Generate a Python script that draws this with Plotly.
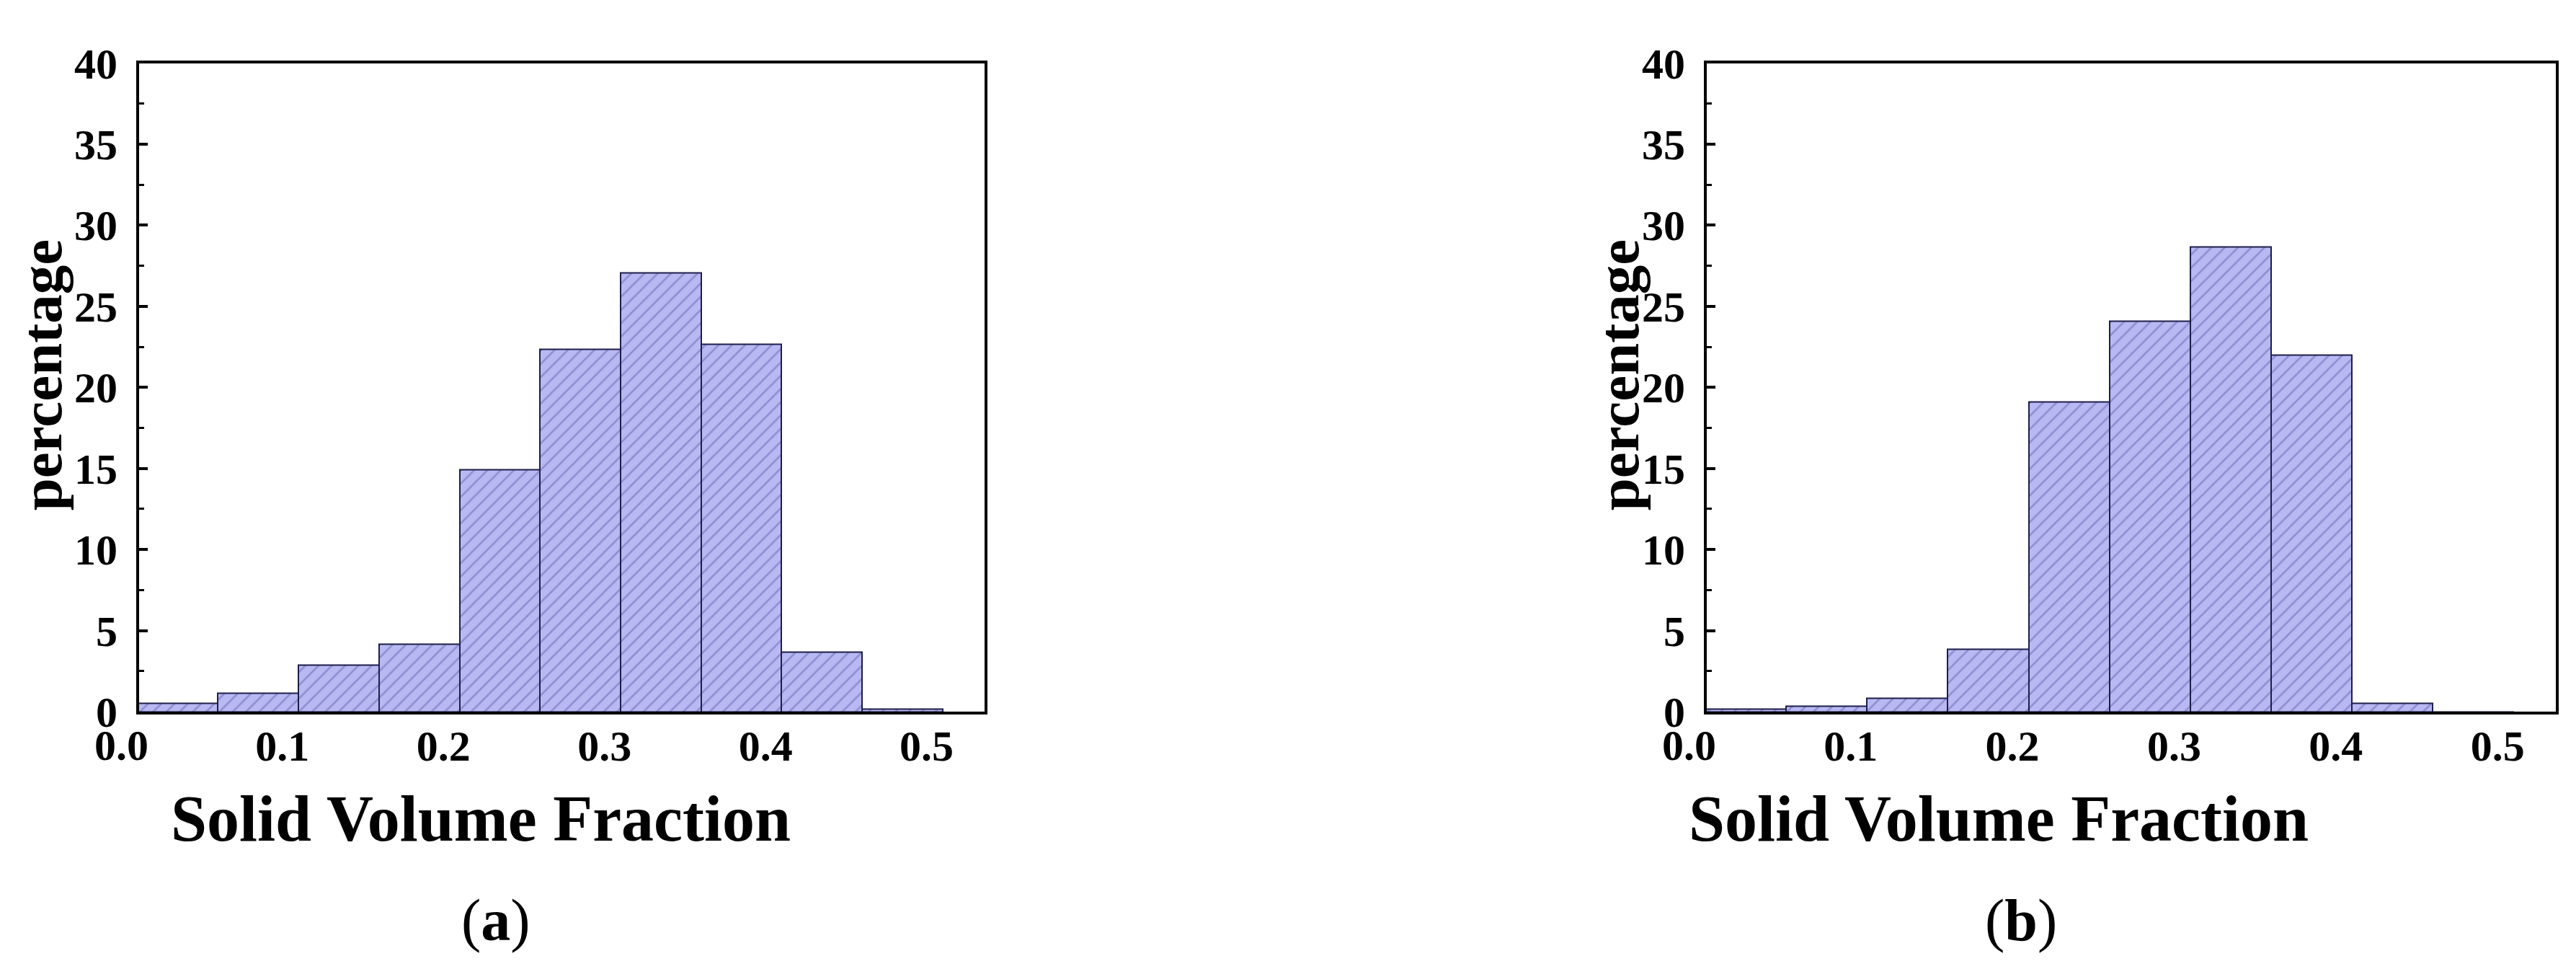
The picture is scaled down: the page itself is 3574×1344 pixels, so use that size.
import plotly.graph_objects as go
from plotly.subplots import make_subplots

# bins (left edge), width 0.05
bin_start = [0.01, 0.06, 0.11, 0.16, 0.21, 0.26, 0.31, 0.36, 0.41, 0.46]
bin_width = 0.05

# percentage per bin, panel (a) and (b)
pct_a = [0.53, 1.13, 2.85, 4.15, 14.93, 22.34, 27.06, 22.64, 3.65, 0.18]
pct_b = [0.15, 0.33, 0.83, 3.86, 19.08, 24.07, 28.66, 21.99, 0.53, 0.0]

x_ticks = [0.1, 0.2, 0.3, 0.4, 0.5]
y_ticks = [0, 5, 10, 15, 20, 25, 30, 35, 40]
x_range = [0.011, 0.536]
panel_labels = ["(<b>a</b>)", "(<b>b</b>)"]

FONT = "Liberation Serif"
W, H = 3574, 1344

fig = make_subplots(rows=1, cols=2)

for i, vals in enumerate([pct_a, pct_b]):
    fig.add_trace(go.Bar(
        x=bin_start, y=vals, width=bin_width, offset=0,
        marker=dict(
            color="rgb(184,184,242)",
            line=dict(color="rgb(30,30,75)", width=2),
            pattern=dict(shape="/", fgcolor="rgb(100,100,178)", bgcolor="rgb(184,184,242)",
                         size=13, solidity=0.2),
        ),
        showlegend=False,
    ), row=1, col=i + 1)

# plot area positions (pixels in full figure)
x_dom = [(185 / W, 1358 / W), (2360 / W, 3538 / W)]
y_dom = ((H - 996) / H, (H - 50) / H)

axis_common = dict(showline=True, linecolor="black", linewidth=4, mirror=True,
                   showgrid=False, zeroline=False)
tick_font = dict(family=FONT, size=60, color="black", weight="bold")

for i in range(2):
    n = "" if i == 0 else "2"
    fig.layout["xaxis" + n].update(
        domain=x_dom[i], range=x_range, tickvals=x_ticks,
        ticktext=[f"{v:.1f}" for v in x_ticks], ticks="",
        tickfont=tick_font, ticklabelstandoff=-8, **axis_common)
    fig.layout["yaxis" + n].update(
        domain=y_dom, range=[0, 40], tickvals=y_ticks, ticks="inside",
        ticklen=12, tickwidth=4, tickcolor="black",
        minor=dict(ticks="inside", ticklen=7, tickwidth=3, dtick=2.5, tickcolor="black"),
        tickfont=tick_font, ticklabelstandoff=14, **axis_common)

    # "0.0" label sits left of the axis start, placed through the axis domain
    fig.add_annotation(x=(0.0 - x_range[0]) / (x_range[1] - x_range[0]), y=0,
                       xref=("x" if i == 0 else "x2") + " domain",
                       yref=("y" if i == 0 else "y2") + " domain",
                       text="0.0", showarrow=False, xanchor="center",
                       yanchor="top", yshift=-12, font=tick_font)

# axis titles and panel labels
title_x = [659, 2765]
ylab_x = [50, 2238]
lab_x = [680, 2796]
for i in range(2):
    fig.add_annotation(x=title_x[i] / W, y=1 - 1152 / H, xref="paper", yref="paper",
                       text="<b>Solid Volume Fraction</b>", showarrow=False,
                       xanchor="center", yanchor="middle",
                       font=dict(family=FONT, size=90, color="black"))
    fig.add_annotation(x=ylab_x[i] / W, y=1 - 505 / H, xref="paper", yref="paper",
                       text="<b>percentage</b>", textangle=-90, showarrow=False,
                       xanchor="center", yanchor="middle",
                       font=dict(family=FONT, size=81, color="black"))
    fig.add_annotation(x=lab_x[i] / W, y=1 - 1300 / H, xref="paper", yref="paper",
                       text=panel_labels[i], showarrow=False,
                       xanchor="center", yanchor="middle",
                       font=dict(family=FONT, size=82, color="black"))

fig.update_layout(width=W, height=H, margin=dict(l=0, r=0, t=0, b=0),
                  plot_bgcolor="white", paper_bgcolor="white", bargap=0)

fig.write_html("out.html")
